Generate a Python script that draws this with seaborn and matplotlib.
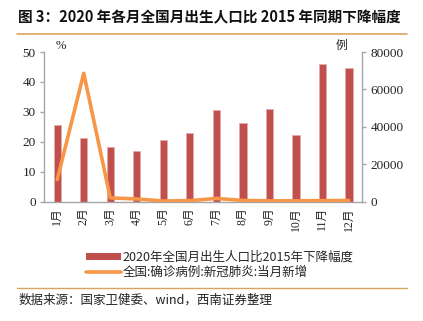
import numpy as np
import pandas as pd
import matplotlib
matplotlib.use("Agg")
import matplotlib.pyplot as plt
from matplotlib.lines import Line2D
from matplotlib.patches import Patch
from matplotlib.font_manager import FontProperties
import seaborn as sns

months = ["1月", "2月", "3月", "4月", "5月", "6月", "7月", "8月", "9月", "10月", "11月", "12月"]
birth_decline_pct = [25.5, 21.1, 18.2, 17.0, 20.5, 23.0, 30.7, 26.3, 31.1, 22.2, 46.0, 44.5]
new_cases = [11800, 68600, 2000, 1400, 300, 500, 1700, 600, 400, 400, 500, 600]
pct_ticks = [0, 10, 20, 30, 40, 50]
case_ticks = [0, 20000, 40000, 60000, 80000]

bar_label = "2020年全国月出生人口比2015年下降幅度"
line_label = "全国:确诊病例:新冠肺炎:当月新增"
title = "图 3：2020 年各月全国月出生人口比 2015 年同期下降幅度"
source = "数据来源：国家卫健委、wind，西南证券整理"

sns.set_theme(style="white")
plt.rcParams["font.family"] = ["Noto Sans CJK SC", "DejaVu Sans"]
plt.rcParams["axes.unicode_minus"] = False

BAR = "#C0504D"
LINE = "#F79646"
SPINE = "#A6A6A6"
RULE = "#D9A460"

df = pd.DataFrame({"month": months, "pct": birth_decline_pct, "cases": new_cases,
                   "pos": np.arange(len(months))})

fig = plt.figure(figsize=(4.23, 3.21), dpi=100)
ax = fig.add_axes([0.104, 0.372, 0.752, 0.466])

sns.barplot(data=df, x="month", y="pct", color=BAR, width=0.28, saturation=1,
            edgecolor="#E8A9A7", linewidth=0.5, ax=ax)
ax.set_xlim(-0.5, 11.5)
ax.set_ylim(0, 50)
ax.set_xlabel("")
ax.set_ylabel("")

ax2 = ax.twinx()
sns.lineplot(data=df, x="pos", y="cases", color=LINE, linewidth=2.6, ax=ax2)
ax2.set_ylim(0, 80000)
ax2.set_ylabel("")
ax2.set_xlim(-0.5, 11.5)

for a in (ax, ax2):
    for s in a.spines.values():
        s.set_visible(False)
ax.spines["left"].set_visible(True)
ax.spines["bottom"].set_visible(True)
ax2.spines["right"].set_visible(True)
for s in (ax.spines["left"], ax.spines["bottom"], ax2.spines["right"]):
    s.set_color(SPINE)
    s.set_linewidth(1.0)

ax.set_xticks(np.arange(len(months)), months, rotation=90)
ax.set_xticks(np.arange(0.5, 11, 1), minor=True)
ax.set_yticks(pct_ticks, [str(v) for v in pct_ticks])
ax2.set_yticks(case_ticks, [str(v) for v in case_ticks])
ax.tick_params(axis="x", which="major", length=0, pad=4)
ax.tick_params(axis="x", which="minor", length=3, color=SPINE, direction="out", width=1)
ax.tick_params(axis="y", length=3, color=SPINE, direction="out", width=1, left=True, pad=3)
ax2.tick_params(axis="y", length=3, color=SPINE, direction="out", width=1, right=True, pad=3)

ax.text(0.035, 1.0, "%", transform=ax.transAxes, family="Liberation Serif", fontsize=9,
        ha="left", va="bottom", color="#222222")
ax2.text(0.955, 1.0, "例", transform=ax2.transAxes, fontsize=8.5,
         ha="right", va="bottom", color="#222222")

handles = [Patch(facecolor=BAR, edgecolor="none"),
           Line2D([0], [0], color=LINE, linewidth=2.6)]
fig.legend(handles, [bar_label, line_label], loc="center", bbox_to_anchor=(0.52, 0.175),
           frameon=False, fontsize=9, handlelength=2.8, handleheight=0.6,
           handletextpad=0.1, labelspacing=0.15, borderaxespad=0)

fig.text(0.043, 0.945, title, fontsize=10.5, fontweight="bold", ha="left", va="center",
         color="#111111")
fig.add_artist(Line2D([0.04, 0.962], [0.894, 0.894], color=RULE, linewidth=1.2,
                      transform=fig.transFigure))
fig.add_artist(Line2D([0.04, 0.962], [0.103, 0.103], color=RULE, linewidth=1.0,
                      transform=fig.transFigure))
fig.text(0.043, 0.066, source, fontsize=9, style="italic", ha="left", va="center",
         color="#222222")

# serif digits on the value axes and month labels
fig.canvas.draw()
for t in ax.get_yticklabels() + ax2.get_yticklabels():
    t.set_fontproperties(FontProperties(family="Liberation Serif", size=9.5))
    t.set_color("#222222")
for t in ax.get_xticklabels():
    t.set_fontproperties(FontProperties(family=["Liberation Serif", "Noto Sans CJK SC"],
                                        size=8.5))
    t.set_color("#222222")

fig.savefig("out.png", dpi=100)
